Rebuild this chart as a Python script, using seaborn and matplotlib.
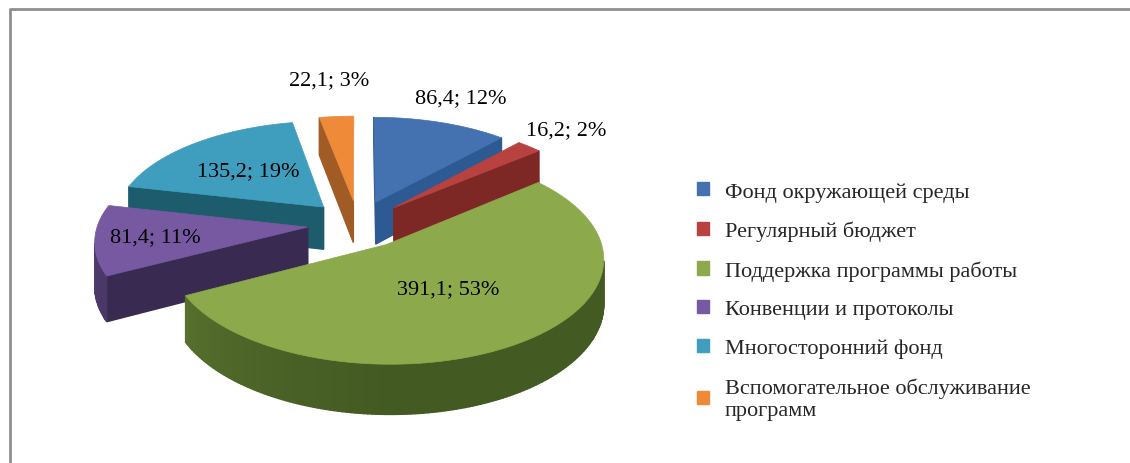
import numpy as np
import matplotlib
matplotlib.use("Agg")
import matplotlib.pyplot as plt
from matplotlib.patches import Patch
import matplotlib.colors as mcolors
import seaborn as sns

# data
categories = ["Фонд окружающей среды", "Регулярный бюджет", "Поддержка программы работы",
              "Конвенции и протоколы", "Многосторонний фонд",
              "Вспомогательное обслуживание\nпрограмм"]
values = [86.4, 16.2, 391.1, 81.4, 135.2, 22.1]
percents = [12, 2, 53, 11, 19, 3]

top_colors = ["#4472B0", "#B8423F", "#8CAA4B", "#7659A0", "#3F9EBE", "#EE8A38"]
wall_colors = ["#2D5A92", "#7E2826", "#435A22", "#382A50", "#1C5A6A", "#7C451C"]

# label distance from the centre (in pie radii), per slice
label_r = [1.35, 1.30, 0.48, 0.72, 0.56, 1.51]

sns.set_style("white")
plt.rcParams["font.family"] = ["Liberation Serif", "DejaVu Serif"]

# fake 3d projection of the pie
cx, cy = 358, 225
rx, ry = 210, 100
persp = 0.12
explode = 0.24
depth = 43


def project(X, Y, z=0.0):
    f = 1.0 / (1.0 - persp * Y)
    return cx + rx * X * f, cy + ry * Y * f + depth * z * f


def mix(c1, c2, k):
    a = np.array(mcolors.to_rgb(c1))
    b = np.array(mcolors.to_rgb(c2))
    return tuple(a + (b - a) * k)


fig = plt.figure(figsize=(11.3, 4.64), dpi=100)
ax = fig.add_axes([0, 0, 1, 1])
ax.set_xlim(0, 1130)
ax.set_ylim(464, 0)
ax.axis("off")

vals = np.array(values)
edges = np.concatenate([[0], np.cumsum(vals) / vals.sum() * 360])

slices = []
for i in range(len(vals)):
    a0, a1 = edges[i], edges[i + 1]
    mid = np.radians((a0 + a1) / 2)
    ox, oy = explode * np.sin(mid), -explode * np.cos(mid)
    th = np.radians(np.linspace(a0, a1, max(int(a1 - a0), 4)))
    X = np.concatenate([[ox], ox + np.sin(th)])
    Y = np.concatenate([[oy], oy - np.cos(th)])
    slices.append((i, oy, X, Y, mid))

# back slices first
for i, oy, X, Y, mid in sorted(slices, key=lambda s: s[1]):
    tx, ty = project(X, Y, 0)
    bx, by = project(X, Y, 1)
    gx, gy = tx.mean(), ty.mean()
    n = len(tx)
    for j in range(n):
        k = (j + 1) % n
        dx, dy = tx[k] - tx[j], ty[k] - ty[j]
        nx, ny = dy, -dx
        mx, my = (tx[j] + tx[k]) / 2 - gx, (ty[j] + ty[k]) / 2 - gy
        if nx * mx + ny * my < 0:
            nx, ny = -nx, -ny
        ln = np.hypot(nx, ny)
        if ln == 0 or ny / ln <= 0.02:
            continue
        shade = mix(wall_colors[i], top_colors[i], 0.35 * max(0, -nx / ln))
        ax.fill([tx[j], tx[k], bx[k], bx[j]], [ty[j], ty[k], by[k], by[j]],
                color=shade, lw=1.0, ec=shade)
    ax.fill(tx, ty, color=top_colors[i], lw=0.5, ec=top_colors[i])

# data labels
for i, oy, X, Y, mid in slices:
    s = label_r[i] + explode
    lx, ly = project(s * np.sin(mid), -s * np.cos(mid))
    txt = f"{values[i]:.1f}".replace(".", ",") + f"; {percents[i]}%"
    ax.text(lx, ly, txt, ha="center", va="center", fontsize=16, color="black")

handles = [Patch(facecolor=c, edgecolor=c) for c in top_colors]
ax.legend(handles, categories, loc="upper left", bbox_to_anchor=(697, 183),
          bbox_transform=ax.transData, frameon=False, fontsize=16,
          handlelength=0.55, handleheight=0.55, handletextpad=0.7,
          labelspacing=0.86, borderpad=0, borderaxespad=0)

# chart border (top and left only are visible)
ax.plot([9.5, 9.5, 1130], [464, 10, 10], color="#8F8F8F", lw=2, solid_capstyle="butt")

fig.savefig("out.png", dpi=100)
plt.close(fig)
